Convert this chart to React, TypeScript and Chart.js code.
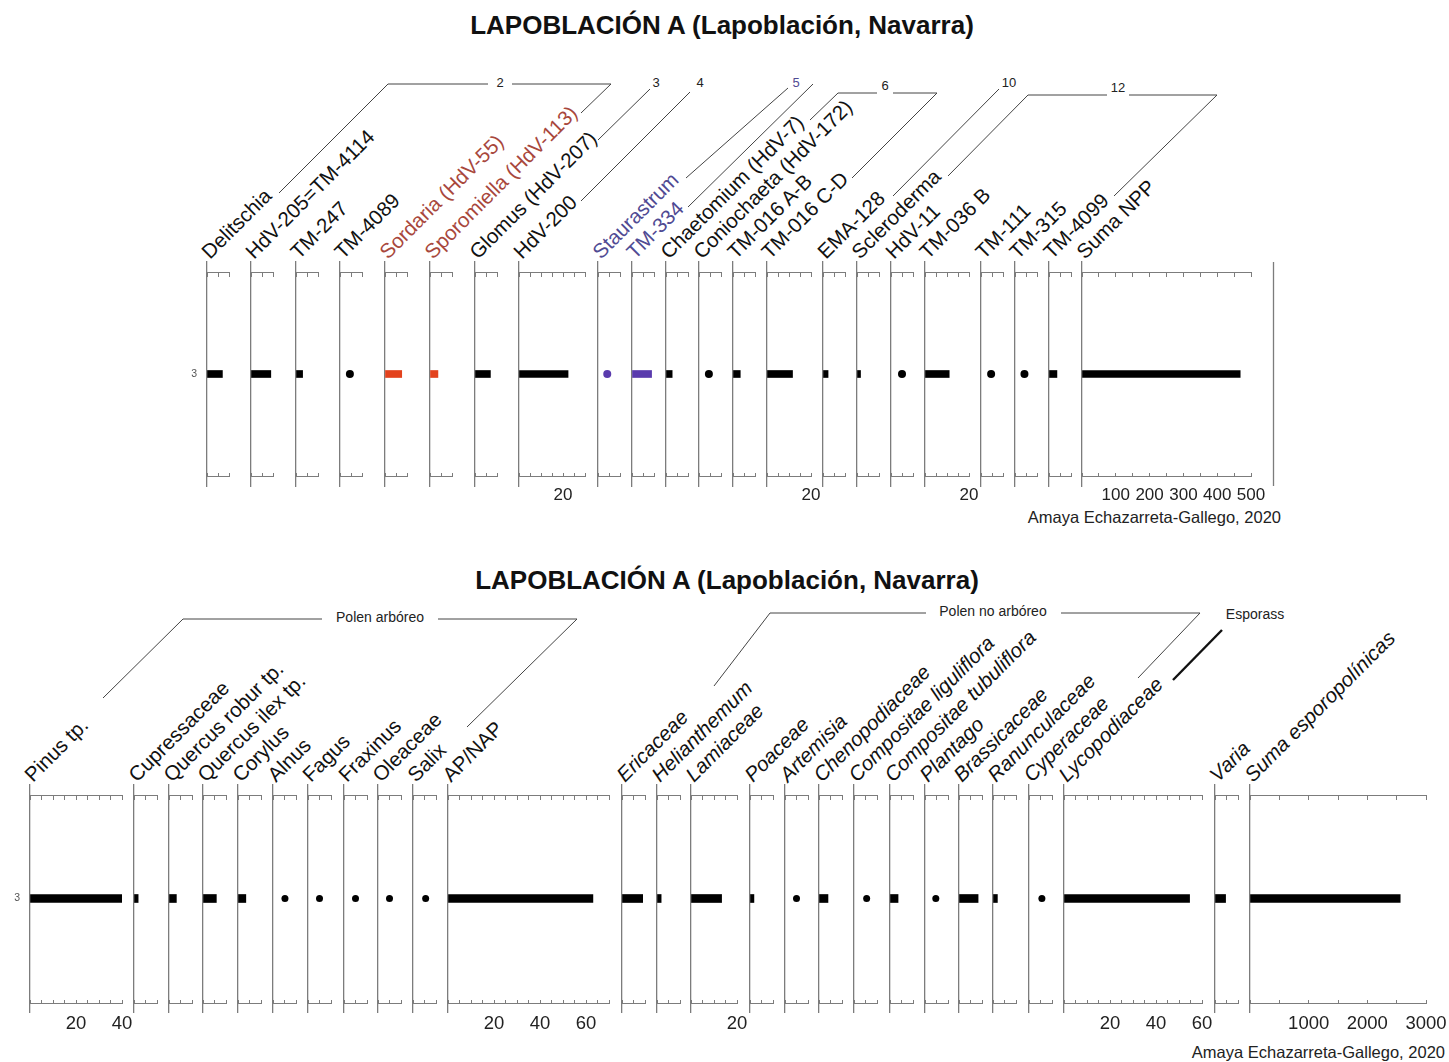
import { useEffect, useRef } from 'react';
import { Chart, registerables } from 'chart.js';

Chart.register(...registerables);

const FONT = '"Liberation Sans", Arial, Helvetica, sans-serif';

// ---------- data: Lapoblación A, sample 3 ----------
const sampleLabel = '3';
const sampleLevel = 3;

// Non-pollen palynomorphs (NPP)
const nppTaxa = [
  'Delitschia', 'HdV-205=TM-4114', 'TM-247', 'TM-4089', 'Sordaria (HdV-55)', 'Sporomiella (HdV-113)',
  'Glomus (HdV-207)', 'HdV-200', 'Staurastrum', 'TM-334', 'Chaetomium (HdV-7)', 'Coniochaeta (HdV-172)',
  'TM-016 A-B', 'TM-016 C-D', 'EMA-128', 'Scleroderma', 'HdV-11', 'TM-036 B', 'TM-111', 'TM-315',
  'TM-4099', 'Suma NPP',
];
const nppValues = [7, 9, 3, 4.5, 7.6, 3.6, 7, 22.3, 4.2, 8.9, 2.8, 4.5, 3.3, 11.6, 2.3, 1.6, 5, 11, 4.6, 4.3, 3.6, 468];
// 'dot' = taxon present at low value, drawn as a point
const nppMarks = ['bar', 'bar', 'bar', 'dot', 'bar', 'bar', 'bar', 'bar', 'dot', 'bar', 'bar', 'dot',
  'bar', 'bar', 'bar', 'bar', 'dot', 'bar', 'dot', 'dot', 'bar', 'bar'];
const nppScaleMax = [10, 10, 10, 10, 10, 10, 10, 30, 10, 10, 10, 10, 10, 20, 10, 10, 10, 20, 10, 10, 10, 500];
const nppTickStep = [5, 5, 5, 5, 5, 5, 5, 5, 5, 5, 5, 5, 5, 5, 5, 5, 5, 5, 5, 5, 5, 50];
const nppTickLabels: number[][] = [[], [], [], [], [], [], [], [20], [], [], [], [], [], [20], [], [], [], [20], [], [], [],
  [100, 200, 300, 400, 500]];

// Pollen and spores
const pollenTaxa = [
  'Pinus tp.', 'Cupressaceae', 'Quercus robur tp.', 'Quercus ilex tp.', 'Corylus', 'Alnus', 'Fagus', 'Fraxinus',
  'Oleaceae', 'Salix', 'AP/NAP', 'Ericaceae', 'Helianthemum', 'Lamiaceae', 'Poaceae', 'Artemisia',
  'Chenopodiaceae', 'Compositae liguliflora', 'Compositae tubuliflora', 'Plantago', 'Brassicaceae',
  'Ranunculaceae', 'Cyperaceae', 'Lycopodiaceae', 'Varia', 'Suma esporopolínicas',
];
const pollenValues = [40, 1.8, 3.2, 5.8, 3.4, 5.2, 5, 5, 5, 5.5, 63, 9, 1.8, 13.3, 1.7, 5, 3.9, 5.5, 3.5, 4.7, 8.3,
  1.9, 5.6, 54.6, 4.6, 2560];
const pollenMarks = ['bar', 'bar', 'bar', 'bar', 'bar', 'dot', 'dot', 'dot', 'dot', 'dot', 'bar', 'bar', 'bar', 'bar',
  'bar', 'dot', 'bar', 'dot', 'bar', 'dot', 'bar', 'bar', 'dot', 'bar', 'bar', 'bar'];
const pollenScaleMax = [40, 10, 10, 10, 10, 10, 10, 10, 10, 10, 70, 10, 10, 20, 10, 10, 10, 10, 10, 10, 10, 10, 10, 60,
  10, 3000];
const pollenTickStep = [5, 5, 5, 5, 5, 5, 5, 5, 5, 5, 5, 5, 5, 5, 5, 5, 5, 5, 5, 5, 5, 5, 5, 5, 5, 500];
const pollenTickLabels: number[][] = [[20, 40], [], [], [], [], [], [], [], [], [], [20, 40, 60], [], [], [20], [], [],
  [], [], [], [], [], [], [], [20, 40, 60], [], [1000, 2000, 3000]];

// ---------- layout ----------
const nppColumnX = [207, 251, 296, 340, 385, 430, 475, 519, 598, 632, 666, 699, 733, 767, 823, 857, 891, 925, 981,
  1015, 1049, 1082];
const pollenColumnX = [30, 134, 169, 203, 238, 273, 308, 344, 378, 413, 448, 622, 657, 691, 750, 785, 819, 854, 890,
  925, 959, 993, 1029, 1064, 1215, 1250];

const AXIS = '#7c7c7c';
const RED_MARK = '#e3421d';
const RED_TEXT = '#a8473c';
const PURPLE_MARK = '#5a3bad';
const PURPLE_TEXT = '#504a93';

const nppMarkColour: Record<string, string> = {
  'Sordaria (HdV-55)': RED_MARK, 'Sporomiella (HdV-113)': RED_MARK, Staurastrum: PURPLE_MARK, 'TM-334': PURPLE_MARK,
};
const nppTextColour: Record<string, string> = {
  'Sordaria (HdV-55)': RED_TEXT, 'Sporomiella (HdV-113)': RED_TEXT, Staurastrum: PURPLE_TEXT, 'TM-334': PURPLE_TEXT,
};

type Panel = {
  lineTop: number; lineBottom: number; axisTop: number; axisBottom: number;
  unitPx: number; sumWidth: number; barThickness: number; dotRadius: number;
  tickFont: number; tickPadding: number; labelFont: number;
};

const NPP_PANEL: Panel = {
  lineTop: 262, lineBottom: 486, axisTop: 273, axisBottom: 476,
  unitPx: 2.2, sumWidth: 169, barThickness: 7, dotRadius: 4, tickFont: 17, tickPadding: 13, labelFont: 20.5,
};
const POLLEN_PANEL: Panel = {
  lineTop: 785, lineBottom: 1012, axisTop: 795, axisBottom: 1003,
  unitPx: 2.3, sumWidth: 176, barThickness: 8, dotRadius: 3.5, tickFont: 18.5, tickPadding: 14, labelFont: 20.5,
};

const PAD_L = 24;
const PAD_R = 44;
const PAD_T = 20;
const PAD_B = 40;
const DEPTH_W = 20;
const Y_MAX = 6;

type StripProps = {
  panel: Panel; x: number; plotWidth: number; max: number; step: number; labelled: number[];
  value: number; mark: string; colour: string; showDepth: boolean;
};

function Strip({ panel, x, plotWidth, max, step, labelled, value, mark, colour, showDepth }: StripProps) {
  const ref = useRef<HTMLCanvasElement>(null);
  const plotH = panel.lineBottom - panel.lineTop;
  const W = Math.round(PAD_L + plotWidth + PAD_R);
  const H = PAD_T + plotH + PAD_B;

  useEffect(() => {
    if (!ref.current) return;
    const yTopVal = Y_MAX - ((panel.axisTop - panel.lineTop) / plotH) * Y_MAX;
    const yBottomVal = ((panel.lineBottom - panel.axisBottom) / plotH) * Y_MAX;
    const tickValues: number[] = [];
    for (let v = 0; v <= max + 1e-9; v += step) tickValues.push(v);
    const setTicks = (s: any) => { s.ticks = tickValues.map((v) => ({ value: v })); };
    const tickFont = { family: FONT, size: panel.tickFont };
    const depthW = showDepth ? DEPTH_W : 0;

    const chart = new Chart(ref.current, {
      type: 'bar',
      data: {
        datasets: [
          {
            type: 'bar',
            indexAxis: 'y',
            data: mark === 'bar' ? [{ x: value, y: sampleLevel }] : [],
            backgroundColor: colour,
            borderWidth: 0,
            barThickness: panel.barThickness,
            xAxisID: 'x',
            yAxisID: 'y',
          } as any,
          {
            type: 'scatter',
            data: mark === 'dot' ? [{ x: value, y: sampleLevel }] : [],
            backgroundColor: colour,
            borderWidth: 0,
            pointRadius: panel.dotRadius,
            xAxisID: 'x',
            yAxisID: 'y',
          } as any,
        ],
      },
      options: {
        animation: false,
        responsive: false,
        maintainAspectRatio: false,
        devicePixelRatio: 1,
        events: [],
        layout: { padding: { left: PAD_L - depthW, right: PAD_R, top: PAD_T, bottom: PAD_B }, autoPadding: false },
        plugins: { legend: { display: false }, tooltip: { enabled: false } },
        scales: {
          y: {
            type: 'linear',
            axis: 'y',
            position: 'left',
            offset: false,
            min: 0,
            max: Y_MAX,
            afterBuildTicks: (s: any) => { s.ticks = [{ value: sampleLevel }]; },
            afterFit: (s: any) => { s.width = depthW; },
            ticks: {
              display: showDepth,
              callback: () => sampleLabel,
              padding: 10,
              color: '#555',
              font: { family: FONT, size: 10.5 },
            },
            grid: { offset: false, drawOnChartArea: false, drawTicks: false },
            border: { display: true, color: AXIS, width: 1.3 },
          },
          x: {
            type: 'linear',
            axis: 'x',
            position: { y: yBottomVal },
            offset: false,
            min: 0,
            max,
            afterBuildTicks: setTicks,
            ticks: {
              autoSkip: false,
              maxRotation: 0,
              minRotation: 0,
              padding: panel.tickPadding,
              color: '#222',
              font: tickFont,
              callback: (v: any) => (labelled.includes(Number(v)) ? String(v) : ''),
            },
            grid: { offset: false, drawOnChartArea: false, drawTicks: true, tickLength: -4, color: AXIS, lineWidth: 1 },
            border: { display: true, color: AXIS, width: 1 },
          },
          xTop: {
            type: 'linear',
            axis: 'x',
            display: true,
            position: { y: yTopVal },
            offset: false,
            min: 0,
            max,
            afterBuildTicks: setTicks,
            ticks: { display: false },
            grid: { offset: false, drawOnChartArea: false, drawTicks: true, tickLength: 4, color: AXIS, lineWidth: 1 },
            border: { display: true, color: AXIS, width: 1 },
          },
        } as any,
      },
    });
    return () => chart.destroy();
  }, []);

  return (
    <canvas
      ref={ref}
      width={W}
      height={H}
      style={{ position: 'absolute', left: x - PAD_L, top: panel.lineTop - PAD_T, width: W, height: H }}
    />
  );
}

type Bracket = { label: string; at: [number, number]; lines: [number, number][][]; colour?: string; heavy?: boolean };

const nppBrackets: Bracket[] = [
  { label: '2', at: [500, 84], lines: [[[279, 193], [388, 84], [488, 84]], [[512, 84], [611, 84], [581, 113]]] },
  { label: '3', at: [656, 84], lines: [[[598, 140], [650, 89]]] },
  { label: '4', at: [700, 84], lines: [[[581, 201], [690, 92]]] },
  { label: '5', at: [796, 84], colour: PURPLE_TEXT, lines: [[[686, 178], [788, 88]], [[688, 207], [813, 84]]] },
  { label: '6', at: [885, 87], lines: [[[810, 120], [838, 93], [877, 93]], [[893, 93], [937, 93], [852, 178]]] },
  { label: '10', at: [1009, 84], lines: [[[893, 196], [999, 89]]] },
  { label: '12', at: [1118, 89], lines: [[[948, 176], [1028, 95], [1107, 95]], [[1129, 95], [1217, 95], [1114, 196]]] },
];

const pollenBrackets: Bracket[] = [
  { label: 'Polen arbóreo', at: [380, 618], lines: [[[103, 698], [183, 619], [322, 619]], [[438, 619], [577, 619], [467, 727]]] },
  { label: 'Polen no arbóreo', at: [993, 612], lines: [[[714, 686], [770, 613], [926, 613]], [[1061, 613], [1200, 613], [1138, 678]]] },
  { label: 'Esporass', at: [1255, 615], heavy: true, lines: [[[1173, 680], [1222, 630]]] },
];

function Brackets({ items, size }: { items: Bracket[]; size: number }) {
  return (
    <g>
      {items.map((b, i) => (
        <g key={i}>
          {b.lines.map((pts, j) => (
            <polyline key={j} points={pts.map((p) => p.join(',')).join(' ')} fill="none"
              stroke={b.heavy ? '#111' : '#444'} strokeWidth={b.heavy ? 2.4 : 1} />
          ))}
          <text x={b.at[0]} y={b.at[1]} fontSize={size} textAnchor="middle" dominantBaseline="middle"
            fill={b.colour || '#222'}>{b.label}</text>
        </g>
      ))}
    </g>
  );
}

function ColumnLabels({ taxa, xs, panel, colours, italicFrom }: {
  taxa: string[]; xs: number[]; panel: Panel; colours?: Record<string, string>; italicFrom?: number;
}) {
  return (
    <g>
      {taxa.map((t, i) => {
        const ax = xs[i] + 3;
        const ay = panel.lineTop - 2;
        return (
          <text key={t} x={ax} y={ay} transform={`rotate(-45 ${ax} ${ay})`} fontSize={panel.labelFont}
            fontStyle={italicFrom !== undefined && i >= italicFrom ? 'italic' : 'normal'}
            fill={(colours && colours[t]) || '#111'}>{t}</text>
        );
      })}
    </g>
  );
}

export default function App() {
  const nppStrips = nppTaxa.map((t, i) => {
    const last = i === nppTaxa.length - 1;
    return (
      <Strip key={t} panel={NPP_PANEL} x={nppColumnX[i]}
        plotWidth={last ? NPP_PANEL.sumWidth : nppScaleMax[i] * NPP_PANEL.unitPx}
        max={nppScaleMax[i]} step={nppTickStep[i]} labelled={nppTickLabels[i]} value={nppValues[i]}
        mark={nppMarks[i]} colour={nppMarkColour[t] || '#000'} showDepth={i === 0} />
    );
  });
  const pollenStrips = pollenTaxa.map((t, i) => {
    const last = i === pollenTaxa.length - 1;
    return (
      <Strip key={t} panel={POLLEN_PANEL} x={pollenColumnX[i]}
        plotWidth={last ? POLLEN_PANEL.sumWidth : pollenScaleMax[i] * POLLEN_PANEL.unitPx}
        max={pollenScaleMax[i]} step={pollenTickStep[i]} labelled={pollenTickLabels[i]} value={pollenValues[i]}
        mark={pollenMarks[i]} colour="#000" showDepth={i === 0} />
    );
  });

  return (
    <div style={{ position: 'absolute', left: 0, top: 0, width: 1449, height: 1062, overflow: 'hidden', background: '#fff', fontFamily: FONT }}>
      <svg width={1449} height={1062} style={{ position: 'absolute', left: 0, top: 0 }} fontFamily={FONT}>
        <text x={722} y={34} fontSize={26} fontWeight="bold" textAnchor="middle" fill="#111">LAPOBLACIÓN A (Lapoblación, Navarra)</text>
        <Brackets items={nppBrackets} size={13} />
        <ColumnLabels taxa={nppTaxa} xs={nppColumnX} panel={NPP_PANEL} colours={nppTextColour} />
        <line x1={1273.5} y1={NPP_PANEL.lineTop} x2={1273.5} y2={NPP_PANEL.lineBottom} stroke={AXIS} strokeWidth={1.3} />
        <text x={1281} y={523} fontSize={16.5} textAnchor="end" fill="#222">Amaya Echazarreta-Gallego, 2020</text>

        <text x={727} y={589} fontSize={26} fontWeight="bold" textAnchor="middle" fill="#111">LAPOBLACIÓN A (Lapoblación, Navarra)</text>
        <Brackets items={pollenBrackets} size={14} />
        <ColumnLabels taxa={pollenTaxa} xs={pollenColumnX} panel={POLLEN_PANEL} italicFrom={11} />
        <text x={1445} y={1058} fontSize={16.5} textAnchor="end" fill="#222">Amaya Echazarreta-Gallego, 2020</text>
      </svg>
      {nppStrips}
      {pollenStrips}
    </div>
  );
}
